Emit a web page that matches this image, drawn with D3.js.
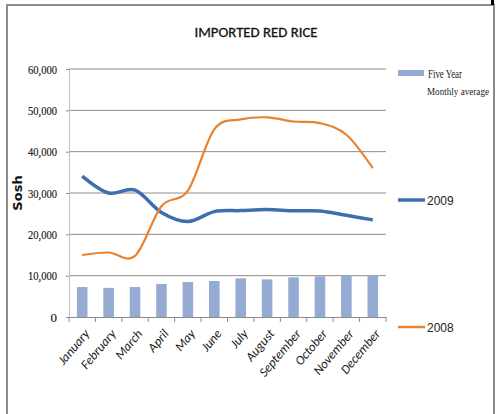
<!DOCTYPE html>
<html><head><meta charset="utf-8">
<script src="https://cdn.jsdelivr.net/npm/d3@7"></script>
<style>body{margin:0;background:#fff}svg{display:block}</style>
</head><body>
<script>
const months = ["January","February","March","April","May","June","July","August","September","October","November","December"];
const fiveYearAvg = [7250, 7050, 7250, 8000, 8450, 8700, 9350, 9100, 9600, 9850, 10100, 10100];
const y2009 = [34100, 30000, 30700, 25300, 23100, 25500, 25750, 26000, 25700, 25650, 24600, 23500];
const y2008 = [15000, 15600, 14800, 26800, 30600, 45400, 47800, 48300, 47300, 46900, 44100, 36000];
const yTicks = [0, 10000, 20000, 30000, 40000, 50000, 60000];
const title = "IMPORTED RED RICE";
const yTitle = "Sosh";

const W = 498, H = 414;
const svg = d3.select("body").append("svg").attr("width", W).attr("height", H);
const calibri = "Carlito, Calibri, 'Open Sans', 'Liberation Sans', sans-serif";

// outer border
svg.append("path").attr("d", "M7,420 V5 H494 V420").attr("fill","none").attr("stroke","#8c8c8c").attr("stroke-width",2);
svg.append("rect").attr("x",491).attr("y",0).attr("width",3).attr("height",5).attr("fill","#000");

const L = 69, R = 386, T = 69, B = 317;
const x = d3.scaleBand().domain(months).range([L, R]).paddingInner(0.6).paddingOuter(0.3);
const xc = d3.scaleBand().domain(months).range([L, R]);
const y = d3.scaleLinear().domain([0, 60000]).range([B, T]);

// gridlines
svg.append("g").selectAll("line").data(yTicks.filter(d=>d>0)).join("line")
  .attr("x1", L).attr("x2", R).attr("y1", d=>y(d)).attr("y2", d=>y(d))
  .attr("stroke","#8c8c8c").attr("stroke-width",1);

// y axis
const ya = svg.append("g").attr("transform",`translate(${L},0)`)
  .call(d3.axisLeft(y).tickValues(yTicks).tickSize(3).tickFormat(""));
ya.select(".domain").attr("stroke","#bfbfbf");
ya.selectAll(".tick line").attr("stroke","#8c8c8c");
const fmt = d3.format(",");
svg.append("g").selectAll("text").data(yTicks).join("text")
  .attr("x", L - 12).attr("y", d => y(d) + 4.5).attr("text-anchor","end")
  .style("font-family", "'Liberation Serif', 'DejaVu Serif', serif").style("font-size","13px")
  .attr("fill","#222").attr("stroke","#222").attr("stroke-width",0.2)
  .each(function(d){ if (d >= 10000) d3.select(this).attr("textLength", 29).attr("lengthAdjust","spacingAndGlyphs"); })
  .text(d => fmt(d));

// bars
svg.append("g").selectAll("rect").data(fiveYearAvg).join("rect")
  .attr("x",(d,i)=>x(months[i])).attr("width",x.bandwidth())
  .attr("y",d=>y(d)).attr("height",d=>B-y(d)).attr("fill","#95abd4");

// x axis
const xa = svg.append("g").attr("transform",`translate(0,${B})`)
  .call(d3.axisBottom(xc).tickSize(0).tickFormat(""));
xa.select(".domain").attr("stroke","#8c8c8c");
svg.append("g").selectAll("line").data(d3.range(months.length+1)).join("line")
  .attr("x1",i=>L+i*xc.step()).attr("x2",i=>L+i*xc.step())
  .attr("y1",B).attr("y2",B+5).attr("stroke","#8c8c8c");
svg.append("g").selectAll("text").data(months).join("text")
  .attr("transform",d=>`translate(${xc(d)+xc.bandwidth()/2+8},${B+17}) rotate(-50)`)
  .attr("text-anchor","end").style("font-family",calibri)
  .attr("font-style","italic").style("font-size","13px").attr("fill","#222").text(d=>d);

// lines
const line = d3.line().x((d,i)=>xc(months[i])+xc.bandwidth()/2).y(d=>y(d)).curve(d3.curveCardinal.tension(0));
svg.append("path").datum(y2009).attr("d",line).attr("fill","none").attr("stroke","#3d6fad").attr("stroke-width",3.5);
svg.append("path").datum(y2008).attr("d",line).attr("fill","none").attr("stroke","#e8822e").attr("stroke-width",2.2);

// title
svg.append("text").attr("x",256).attr("y",37).attr("text-anchor","middle")
  .style("font-family",calibri).style("font-size","15px").attr("fill","#111")
  .attr("stroke","#111").attr("stroke-width",0.3).attr("textLength",123).attr("lengthAdjust","spacingAndGlyphs").text(title);
// y title
svg.append("text").attr("transform","translate(22,193) rotate(-90)").attr("text-anchor","middle")
  .style("font-family","'DejaVu Sans', sans-serif").attr("font-weight","bold").style("font-size","13px").attr("fill","#111").text(yTitle);

// legend
const lg = svg.append("g");
lg.append("rect").attr("x",398).attr("y",70).attr("width",26).attr("height",6).attr("fill","#95abd4");
lg.append("text").attr("x",428).attr("y",78).style("font-family","'Liberation Serif', serif").style("font-size","12px").attr("fill","#222")
  .attr("textLength",34).attr("lengthAdjust","spacingAndGlyphs").text("Five Year");
lg.append("text").attr("x",427).attr("y",95).style("font-family","'Liberation Serif', serif").style("font-size","10px").attr("fill","#222")
  .attr("textLength",62).attr("lengthAdjust","spacingAndGlyphs").text("Monthly average");
lg.append("line").attr("x1",398).attr("x2",425).attr("y1",200).attr("y2",200).attr("stroke","#3d6fad").attr("stroke-width",3.5);
lg.append("text").attr("x",427).attr("y",205).style("font-family","'Liberation Sans Narrow', 'Liberation Sans', sans-serif").style("font-size","12px").attr("fill","#222").text("2009");
lg.append("line").attr("x1",398).attr("x2",425).attr("y1",327).attr("y2",327).attr("stroke","#e8822e").attr("stroke-width",2.5);
lg.append("text").attr("x",427).attr("y",332).style("font-family","'Liberation Sans Narrow', 'Liberation Sans', sans-serif").style("font-size","12px").attr("fill","#222").text("2008");
</script>
</body></html>
